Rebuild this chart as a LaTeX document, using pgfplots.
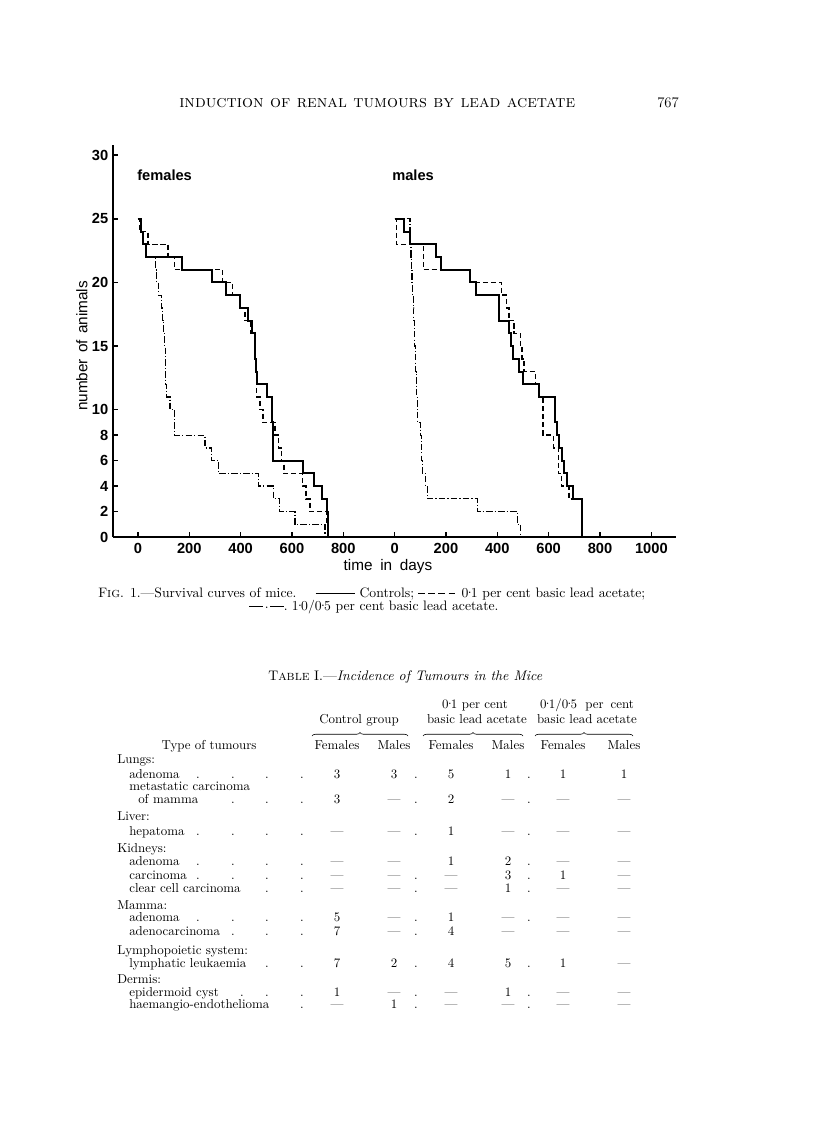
\documentclass[border=0pt]{standalone}
\usepackage{pgfplots}
\pgfplotsset{compat=1.18}
\usepackage{pgfplotstable}
\usepackage{graphicx}
\usepackage{fontspec}
\newfontfamily\lab{Liberation Sans}
\usetikzlibrary{decorations.pathreplacing}
\newlength\px \setlength\px{0.75pt}
\newcommand\tf{\fontsize{9.7}{11}\selectfont}
\newcommand\md{\kern-0.05em\raisebox{0.27em}{.}\kern-0.05em}
\newcommand\capfont{\fontsize{9.5}{11}\selectfont}
\newcommand\dsh{\rule[0.27em]{0.5em}{0.5pt}}
\newcommand\capone{F\textsc{ig}. 1.---Survival curves of mice.\hspace{1.4em}\rule[0.27em]{2.9em}{0.5pt}\hspace{0.3em}Controls;\hspace{0.3em}\dsh\hspace{0.24em}\dsh\hspace{0.24em}\dsh\hspace{0.24em}\dsh\hspace{0.45em}0\md1 per cent basic lead acetate;}
\newcommand\captwo{\rule[0.27em]{1em}{0.5pt}\kern0.12em\raisebox{0.12em}{.}\kern0.12em\rule[0.27em]{1em}{0.5pt}\raisebox{0em}{.}\hspace{0.3em}1\md0/0\md5 per cent basic lead acetate.}
\newlength\capw

% female series (days)
\pgfplotstableread{
t n
0 25
12 24
18 23
31 22
170 21
287 20
345 19
397 18
430 17
443 16
456 15
458 14
460 13
462 12
501 11
521 10
524 9
526 8
527 7
528 6
642 5
686 4
716 3
735 2
739 1
742 0
}\fcon
\pgfplotstableread{
t n
0 25
8 24
40 23
118 22
142 21
329 20
369 19
397 18
417 17
440 16
455 15
457 14
459 13
461 12
462 11
475 10
488 9
534 8
547 7
560 6
569 5
642 4
655 3
670 2
735 1
740 0
}\flow
\pgfplotstableread{
t n
0 25
12 24
18 23
31 22
69 21
73 20
79 19
92 18
96 17
100 16
104 15
106 14
107 13
109 12
112 11
125 10
142 8
261 7
287 6
313 5
469 4
527 3
553 2
612 1
729 0
}\fhigh
% male series (days)
\pgfplotstableread{
t n
0 25
36 24
60 23
162 22
182 21
292 20
316 19
406 17
445 16
452 15
462 14
484 13
500 12
562 11
625 9
634 8
640 7
653 6
660 5
673 4
695 3
730 0
}\mcon
\pgfplotstableread{
t n
0 25
8 23
112 21
296 20
417 19
436 18
445 17
465 16
491 15
497 14
504 13
549 12
562 11
578 8
618 7
638 5
649 4
679 3
727 0
}\mlow
\pgfplotstableread{
t n
0 25
60 24
62 23
64 22
66 21
68 20
70 19
72 18
74 17
76 16
78 15
80 14
82 13
84 12
86 11
88 10
90 9
101 8
104 7
106 6
108 5
121 4
127 3
322 2
478 1
491 0
}\mhigh

\newcommand\vals[7]{%
 \node[anchor=base] at (337,#1) {#2};
 \node[anchor=base] at (394,#1) {#3};
 \node[anchor=base] at (451,#1) {#4};
 \node[anchor=base] at (508,#1) {#5};
 \node[anchor=base] at (563,#1) {#6};
 \node[anchor=base] at (624,#1) {#7};}
\newcommand\dt[2]{\node[anchor=base] at (#1,#2) {.};}
\newcommand\lft[2]{\node[anchor=base west] at (#1) {#2};}

\begin{document}%
\settowidth{\capw}{\capfont\capone}%
\pgfmathsetmacro\capf{410.25pt/\capw}%
\begin{tikzpicture}
\path[use as bounding box] (0,0) rectangle (612pt,-858pt);
\begin{axis}[
  at={(84.75pt,-402.75pt)}, anchor=south west,
  scale only axis, width=422.25pt, height=294pt,
  xmin=-97, xmax=2096, ymin=0, ymax=30.8,
  axis lines*=left,
  axis line style={line width=1.3pt},
  tick align=inside,
  major tick length=3.5pt,
  tick style={line width=1.1pt, black},
  xtick={0,200,...,2000},
  xticklabels={0,200,400,600,800,0,200,400,600,800,1000},
  ytick={0,2,4,6,8,10,15,20,25,30},
  tick label style={font=\lab\bfseries\fontsize{11}{13}\selectfont},
  xticklabel style={yshift=-1.5pt},
  /pgf/number format/assume math mode=true,
  clip=false,
]
\addplot[const plot, black, line width=1.5pt] table[x=t,y=n] {\fcon};
\addplot[const plot, black, line width=1.1pt, dash pattern=on 3.8pt off 2.2pt] table[x=t,y=n] {\flow};
\addplot[const plot, black, line width=0.9pt, dash pattern=on 5pt off 1.6pt on 0.8pt off 1.6pt] table[x=t,y=n] {\fhigh};
\addplot[const plot, black, line width=1.5pt] table[x expr=\thisrow{t}+1000,y=n] {\mcon};
\addplot[const plot, black, line width=1.1pt, dash pattern=on 3.8pt off 2.2pt] table[x expr=\thisrow{t}+1000,y=n] {\mlow};
\addplot[const plot, black, line width=0.9pt, dash pattern=on 5pt off 1.6pt on 0.8pt off 1.6pt] table[x expr=\thisrow{t}+1000,y=n] {\mhigh};
\end{axis}
\begin{scope}[x=0.75pt,y=-0.75pt, every node/.style={inner sep=0pt, font=\tf}]
% chart labels
\node[anchor=base west, font=\lab\bfseries\fontsize{11}{13}\selectfont] at (137,181) {females};
\node[anchor=base west, font=\lab\bfseries\fontsize{11}{13}\selectfont] at (392,181) {males};
\node[rotate=90, font=\lab\fontsize{11.5}{13}\selectfont] at (82,346) {number\hspace{0.4em}of\hspace{0.4em}animals};
\node[font=\lab\fontsize{11.5}{13}\selectfont] at (388,567) {time\hspace{0.5em}in\hspace{0.5em}days};
% page header
\node[anchor=base west] at (179,108) {\resizebox{396\px}{!}{\fontsize{10}{12}\selectfont\textsc{induction of renal tumours by lead acetate}}};
\node[anchor=base west, font=\fontsize{11}{13}\selectfont] at (657,108) {767};
% caption
\node[anchor=base west] at (98,597.5) {\scalebox{\capf}{\capfont\capone}};
\node[anchor=base] at (374,610.5) {\scalebox{\capf}{\capfont\captwo}};
% table title
\node[anchor=base west] at (268,680) {\resizebox{274\px}{!}{\fontsize{10}{12}\selectfont T\textsc{able} I.---\textit{Incidence of Tumours in the Mice}}};
% table head
\node[anchor=base] at (475,708) {0\md1 per cent};
\node[anchor=base] at (587,708) {0\md1/0\md5\hspace{0.3em} per\hspace{0.2em} cent};
\node[anchor=base] at (359,723) {Control group};
\node[anchor=base] at (477,723) {basic lead acetate};
\node[anchor=base] at (587,723) {basic lead acetate};
\draw[line width=0.45pt, decorate, decoration={brace, amplitude=3.5\px}] (312,736) -- (408,736);
\draw[line width=0.45pt, decorate, decoration={brace, amplitude=3.5\px}] (423,736) -- (523,736);
\draw[line width=0.45pt, decorate, decoration={brace, amplitude=3.5\px}] (535,736) -- (633,736);
\node[anchor=base] at (209,749) {Type of tumours};
\vals{749}{Females}{Males}{Females}{Males}{Females}{Males}
% rows
\lft{117,763}{Lungs:}
\lft{129,778}{adenoma}
\dt{198}{778}\dt{233}{778}\dt{267}{778}\dt{302}{778}
\vals{778}{3}{3}{5}{1}{1}{1}\dt{416}{778}\dt{529}{778}
\lft{129,790}{metastatic carcinoma}
\lft{138,803}{of mamma}
\dt{233}{803}\dt{267}{803}\dt{302}{803}
\vals{803}{3}{---}{2}{---}{---}{---}\dt{416}{803}\dt{529}{803}
\lft{117,820}{Liver:}
\lft{129,835}{hepatoma}
\dt{198}{835}\dt{233}{835}\dt{267}{835}\dt{302}{835}
\vals{835}{---}{---}{1}{---}{---}{---}\dt{416}{835}\dt{529}{835}
\lft{117,852}{Kidneys:}
\lft{129,865}{adenoma}
\dt{198}{865}\dt{233}{865}\dt{267}{865}\dt{302}{865}
\vals{865}{---}{---}{1}{2}{---}{---}\dt{529}{865}
\lft{129,879}{carcinoma}
\dt{198}{879}\dt{233}{879}\dt{267}{879}\dt{302}{879}
\vals{879}{---}{---}{---}{3}{1}{---}\dt{416}{879}\dt{529}{879}
\lft{129,892}{clear cell carcinoma}
\dt{267}{892}\dt{302}{892}
\vals{892}{---}{---}{---}{1}{---}{---}\dt{416}{892}\dt{529}{892}
\lft{117,909}{Mamma:}
\lft{129,921}{adenoma}
\dt{198}{921}\dt{233}{921}\dt{267}{921}\dt{302}{921}
\vals{921}{5}{---}{1}{---}{---}{---}\dt{416}{921}\dt{529}{921}
\lft{129,935}{adenocarcinoma}
\dt{233}{935}\dt{267}{935}\dt{302}{935}
\vals{935}{7}{---}{4}{---}{---}{---}\dt{416}{935}
\lft{117,954}{Lymphopoietic system:}
\lft{129,967}{lymphatic leukaemia}
\dt{267}{967}\dt{302}{967}
\vals{967}{7}{2}{4}{5}{1}{---}\dt{416}{967}\dt{529}{967}
\lft{117,983}{Dermis:}
\lft{129,996}{epidermoid cyst}
\dt{242}{996}\dt{267}{996}\dt{302}{996}
\vals{996}{1}{---}{---}{1}{---}{---}\dt{416}{996}\dt{529}{996}
\lft{129,1008}{haemangio-endothelioma}
\dt{302}{1008}
\vals{1008}{---}{1}{---}{---}{---}{---}\dt{416}{1008}\dt{529}{1008}
\end{scope}
\end{tikzpicture}%
\end{document}
